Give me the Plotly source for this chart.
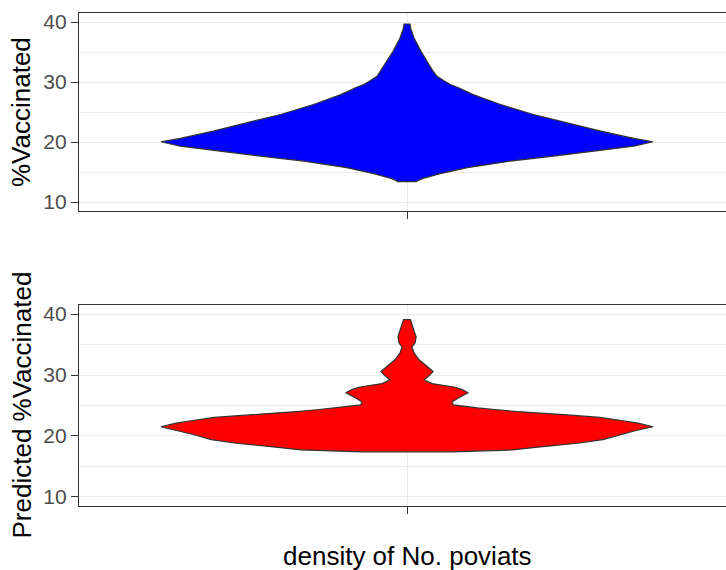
import plotly.graph_objects as go
from plotly.subplots import make_subplots

# density profiles (relative density, max = 1)
actual_pct = [13.4, 13.5, 13.94, 14.72, 15.72, 16.82, 17.65, 18.6, 19.31, 20.04, 20.6, 21.8,
              23.2, 24.58, 26.25, 27.9, 29.0, 29.57, 30.1, 30.95, 31.8, 32.9, 33.7, 35.1,
              37.3, 38.8, 39.67]
actual_density = [0.039, 0.041, 0.065, 0.135, 0.245, 0.420, 0.596, 0.788, 0.922, 1.0, 0.922,
                  0.788, 0.653, 0.514, 0.380, 0.269, 0.212, 0.176, 0.155, 0.122, 0.106, 0.090,
                  0.078, 0.057, 0.029, 0.016, 0.012]

predicted_pct = [17.4, 17.55, 17.7, 18.15, 18.4, 18.8, 19.4, 20.2, 20.9, 21.51, 22.1, 22.5,
                 23.05, 23.45, 23.75, 24.0, 24.3, 24.6, 25.1, 25.6, 26.3, 27.1, 27.6, 28.0,
                 28.6, 29.2, 29.9, 30.56, 31.4, 32.5, 33.6, 34.6, 35.3, 36.3, 37.2, 38.3, 39.1]
predicted_density = [0.180, 0.306, 0.429, 0.531, 0.592, 0.694, 0.796, 0.865, 0.931, 1.0, 0.939,
                     0.878, 0.784, 0.653, 0.531, 0.449, 0.367, 0.286, 0.188, 0.184, 0.212, 0.249,
                     0.224, 0.196, 0.102, 0.069, 0.090, 0.106, 0.082, 0.049, 0.029, 0.020, 0.033,
                     0.037, 0.029, 0.020, 0.014]

y_ticks = [10, 20, 30, 40]
y_minor = [15, 25, 35]
y_titles = ["%Vaccinated", "Predicted %Vaccinated"]
x_title = "density of No. poviats"
fill_colors = ["#0000FF", "#FF0000"]

HALF = 0.45
CENTER = 1.0


def violin_xy(vals, dens):
    xs = [CENTER + HALF * d for d in dens] + [CENTER - HALF * d for d in reversed(dens)]
    ys = list(vals) + list(reversed(vals))
    xs.append(xs[0])
    ys.append(ys[0])
    return xs, ys


W, H = 726, 570
ml, mr, mt, mb = 79, 0, 13, 64
ph = H - mt - mb
top_bottom_px = 211
bot_top_px = 305

fig = make_subplots(rows=2, cols=1)

for i, (vals, dens) in enumerate([(actual_pct, actual_density), (predicted_pct, predicted_density)]):
    xs, ys = violin_xy(vals, dens)
    fig.add_trace(go.Scatter(x=xs, y=ys, mode="lines", fill="toself",
                             fillcolor=fill_colors[i],
                             line=dict(color="#333333", width=1.2),
                             hoverinfo="skip", showlegend=False), row=i + 1, col=1)

font_fam = "Arial, Liberation Sans, sans-serif"
x_right = 0.4 + (W - ml - mr) / 546.7

axis_common_x = dict(range=[0.4, x_right], tickvals=[CENTER], showticklabels=False,
                     ticks="outside", ticklen=7, tickwidth=1.1, tickcolor="#333333",
                     showgrid=True, gridcolor="#EBEBEB", gridwidth=1.1,
                     showline=True, linecolor="#333333", linewidth=1.3, mirror=True,
                     zeroline=False, fixedrange=True)
axis_common_y = dict(range=[8.5, 41.5], tickvals=y_ticks, ticks="outside", ticklen=7,
                     tickwidth=1.1, tickcolor="#333333",
                     tickfont=dict(family=font_fam, size=21, color="#4D4D4D"),
                     showgrid=True, gridcolor="#EBEBEB", gridwidth=1.1,
                     minor=dict(tickvals=y_minor, showgrid=True, gridcolor="#EBEBEB",
                                gridwidth=1.0, ticks=""),
                     showline=True, linecolor="#333333", linewidth=1.3, mirror=False,
                     zeroline=False, fixedrange=True)

d_top_low = (H - mb - top_bottom_px) / ph
d_bot_high = (H - mb - bot_top_px) / ph

fig.update_xaxes(**axis_common_x)
fig.update_yaxes(**axis_common_y)
fig.update_layout(
    yaxis=dict(domain=[d_top_low, 1.0]),
    yaxis2=dict(domain=[0.0, d_bot_high]),
    xaxis=dict(domain=[0, 1]),
    xaxis2=dict(domain=[0, 1]),
)

title_x = (21 - ml) / (W - ml - mr)
fig.add_annotation(text=y_titles[0], xref="paper", yref="paper", x=title_x,
                   y=(d_top_low + 1.0) / 2, textangle=-90, showarrow=False,
                   xanchor="center", yanchor="middle",
                   font=dict(family=font_fam, size=26, color="black"))
fig.add_annotation(text=y_titles[1], xref="paper", yref="paper", x=title_x,
                   y=d_bot_high / 2, textangle=-90, showarrow=False,
                   xanchor="center", yanchor="middle",
                   font=dict(family=font_fam, size=26, color="black"))
fig.add_annotation(text=x_title, xref="x2", yref="paper", x=CENTER,
                   y=-(556 - (H - mb)) / ph, showarrow=False,
                   xanchor="center", yanchor="middle",
                   font=dict(family=font_fam, size=26, color="black"))

fig.update_layout(width=W, height=H, margin=dict(l=ml, r=mr, t=mt, b=mb),
                  paper_bgcolor="white", plot_bgcolor="white",
                  font=dict(family=font_fam))

fig.write_html("out.html", config={"displayModeBar": False},
               post_script="document.body.style.margin='0';"
                           "document.body.style.overflow='hidden';")
